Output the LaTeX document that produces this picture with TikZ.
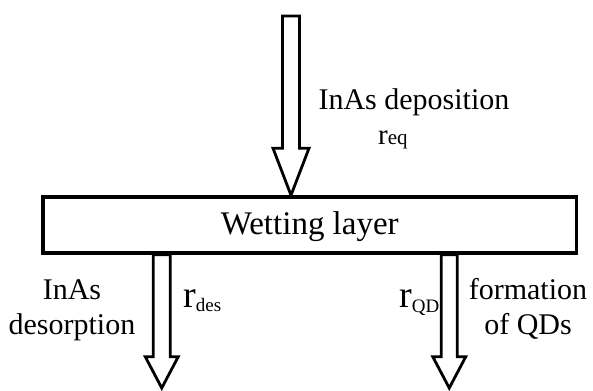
\documentclass[tikz,border=0pt]{standalone}
\usepackage{fontspec}
\setmainfont{Liberation Serif}
\usetikzlibrary{calc,positioning}

% hollow block arrow: #1 start, #2 tip, #3 half shaft, #4 half head, #5 head length
\newcommand{\blockarrow}[5]{%
	\draw[blockline] ($(#1)+(-#3,0)$)--($(#2)+(-#3,#5)$)--($(#2)+(-#4,#5)$)--(#2)
		--($(#2)+(#4,#5)$)--($(#2)+(#3,#5)$)--($(#1)+(#3,0)$)-- cycle;}
% rate label: #1 size of r, #2 drop of index, #3 size of index, #4 index
\newcommand{\ratelbl}[4]{{\fontsize{#1}{#1}\selectfont r}\raisebox{-#2pt}{\fontsize{#3}{#3}\selectfont #4}}

\tikzset{
	blockline/.style={line width=2.8pt,line join=miter},
	layerbox/.style={draw,line width=3.5pt,minimum width=533.5pt,inner sep=0pt,
		text height=38pt,text depth=18pt,font=\fontsize{33}{36}\selectfont},
	lbl/.style={inner sep=0pt,font=\fontsize{30}{35}\selectfont}
}

\begin{document}
\begin{tikzpicture}[x=1pt,y=1pt]
				%\draw[color=gray,step=10pt, help lines,opacity=0.3] (0,0) grid (593,390); %help grids
				\useasboundingbox (0,0) rectangle (593,390);
				\node[layerbox] (wl) at (309.75,165) {Wetting layer};

				\coordinate (depStart) at (291,374);
				\coordinate (depTip) at (depStart |- wl.north);
				\blockarrow{depStart}{depTip}{8.5}{18}{47}

				\coordinate (desStart) at ([xshift=-148pt]wl.south);
				\coordinate (desTip) at (desStart |- 0,2);
				\blockarrow{desStart}{desTip}{8.5}{16.5}{31.3}

				\coordinate (qdStart) at ([xshift=139.5pt]wl.south);
				\coordinate (qdTip) at (qdStart |- 0,2);
				\blockarrow{qdStart}{qdTip}{8}{16.5}{31.3}

				\node[lbl,anchor=base] (depLbl) at (414,280) {InAs deposition};
				\node[lbl,anchor=base west] (reqLbl) at (378,245) {\ratelbl{29}{0}{21}{eq}};
				\node[lbl,anchor=base,align=center] (desLbl) at (72,55) {InAs\\desorption};
				\node[lbl,anchor=base west] (rdesLbl) at (183,82) {\ratelbl{38}{4}{19}{des}};
				\node[lbl,anchor=base west] (rqdLbl) at (399,82) {\ratelbl{38}{5}{19}{QD}};
				\node[lbl,anchor=base,align=center] (qdLbl) at (528,55) {formation\\of QDs};
\end{tikzpicture}
\end{document}
